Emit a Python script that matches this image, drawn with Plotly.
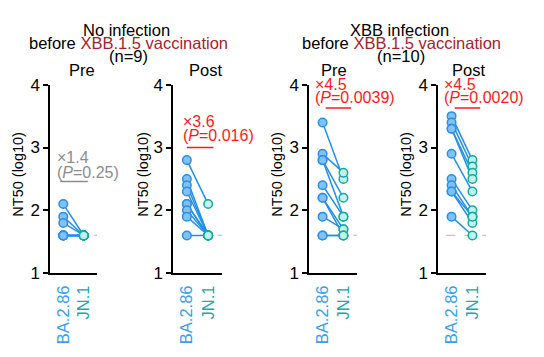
import plotly.graph_objects as go

# ---------------- data ----------------
variants = ["BA.2.86", "JN.1"]
panel_names = ["No infection Pre", "No infection Post", "XBB infection Pre", "XBB infection Post"]

p1_ba = [2.1, 1.9, 1.8, 1.6, 1.6, 1.6, 1.6, 1.6, 1.6]
p1_jn = [1.6, 1.6, 1.6, 1.6, 1.6, 1.6, 1.6, 1.6, 1.6]

p2_ba = [2.8, 2.5, 2.4, 2.3, 2.1, 2.1, 2.0, 1.9, 1.6]
p2_jn = [2.1, 1.6, 1.6, 1.6, 1.6, 1.6, 1.6, 1.6, 1.6]

p3_ba = [3.4, 2.9, 2.8, 2.8, 2.4, 2.2, 2.2, 1.9, 1.6, 1.6]
p3_jn = [2.5, 2.6, 2.2, 1.9, 1.9, 1.7, 1.6, 1.7, 1.6, 1.6]

p4_ba = [3.5, 3.4, 3.3, 3.3, 2.9, 2.5, 2.4, 2.3, 2.3, 1.9]
p4_jn = [2.8, 2.7, 2.6, 2.5, 2.3, 2.0, 1.9, 1.8, 1.9, 1.6]

fold_labels = ["×1.4", "×3.6", "×4.5", "×4.5"]
p_labels = ["0.25", "0.016", "0.0039", "0.0020"]
lod = 1.6
yticks = [1, 2, 3, 4]

panels = [(p1_ba, p1_jn), (p2_ba, p2_jn), (p3_ba, p3_jn), (p4_ba, p4_jn)]

# ---------------- style ----------------
W, H = 544, 357
FONT = "Liberation Sans, Arial, sans-serif"
BA_COL = "#3a9ef0"
JN_COL = "#21a6a6"
LINE_COL = "#2290ea"
BA_FILL = "#80c2f4"
BA_EDGE = "#2a8fe6"
JN_FILL = "#bdf4ee"
JN_EDGE = "#18a79c"
RED = "#ff1a1a"
DARKRED = "#a3232e"
GRAY = "#8c8c8c"

x_domains_px = [(50, 97), (173, 222), (309, 357), (438, 486)]
y_dom = [1 - 279 / H, 1 - 80 / H]
ann_colors = [GRAY, RED, RED, RED]
lod_colors = ["#a9c9ea", "#a9c9ea", "#c4c4c4", "#c4c4c4"]
text_left_px = [56, 182, 314, 443]
fold_y_px = [157, 119, 80, 80]
p_y_px = [172.5, 134, 93, 93]
bar_y = [2.46, 3.0, 3.63, 3.63]
bar_x = [(-0.15, 1.2), (0.0, 1.25), (0.15, 1.37), (0.15, 1.37)]
ytitle_x_px = [18, 143, 277, 406]


def px(x):
    return x / W


def py(y):
    return 1 - y / H


fig = go.Figure()
layout = dict(
    width=W, height=H, margin=dict(l=0, r=0, t=0, b=0),
    paper_bgcolor="white", plot_bgcolor="white", showlegend=False,
    font=dict(family=FONT, size=16, color="black"),
)
shapes = []
annotations = []

for i, (ba, jn) in enumerate(panels):
    k = "" if i == 0 else str(i + 1)
    xa, ya = "x" + k, "y" + k
    lx, ly = [], []
    for a, b in zip(ba, jn):
        lx += [0, 1, None]
        ly += [a, b, None]
    fig.add_trace(go.Scatter(x=lx, y=ly, mode="lines", xaxis=xa, yaxis=ya,
                             line=dict(color=LINE_COL, width=1.5), hoverinfo="skip"))
    fig.add_trace(go.Scatter(x=[0] * len(ba), y=ba, mode="markers", xaxis=xa, yaxis=ya,
                             marker=dict(size=8.5, color=BA_FILL, line=dict(color=BA_EDGE, width=1.5))))
    fig.add_trace(go.Scatter(x=[1] * len(jn), y=jn, mode="markers", xaxis=xa, yaxis=ya,
                             marker=dict(size=8.5, color=JN_FILL, line=dict(color=JN_EDGE, width=1.5))))

    d0, d1 = x_domains_px[i]
    layout["xaxis" + k] = dict(
        domain=[px(d0), px(d1)], range=[-0.65, 1.65], anchor=ya,
        showline=True, linecolor="black", linewidth=1.5, showgrid=False, zeroline=False,
        tickmode="array", tickvals=[0, 1],
        ticktext=[f"<span style='color:{BA_COL}'>{variants[0]}</span>",
                  f"<span style='color:{JN_COL}'>{variants[1]}</span>"],
        tickangle=-90, ticks="", ticklabelstandoff=4,
        tickfont=dict(size=16.5, family=FONT), fixedrange=True,
    )
    layout["yaxis" + k] = dict(
        domain=y_dom, range=[1, 4], anchor=xa,
        showline=True, linecolor="black", linewidth=1.5, showgrid=False, zeroline=False,
        tickmode="array", tickvals=yticks, ticktext=[str(t) for t in yticks],
        ticks="outside", ticklen=5, tickwidth=1.5, tickcolor="black",
        tickfont=dict(size=17, family=FONT), fixedrange=True,
    )
    shapes.append(dict(type="line", xref=xa, yref=ya, x0=-0.25, x1=1.65, y0=lod, y1=lod,
                       line=dict(color=lod_colors[i], width=1.2, dash="dash"), layer="below"))
    shapes.append(dict(type="line", xref=xa, yref=ya, x0=bar_x[i][0], x1=bar_x[i][1],
                       y0=bar_y[i], y1=bar_y[i], line=dict(color=ann_colors[i], width=1.5)))
    annotations.append(dict(x=px(text_left_px[i]), y=py(fold_y_px[i]), xref="paper", yref="paper",
                            text=fold_labels[i], showarrow=False, xanchor="left", yanchor="middle",
                            font=dict(size=16, color=ann_colors[i], family=FONT), borderpad=0))
    annotations.append(dict(x=px(text_left_px[i]), y=py(p_y_px[i]), xref="paper", yref="paper",
                            text=f"(<i>P</i>={p_labels[i]})", showarrow=False, xanchor="left",
                            yanchor="middle", font=dict(size=16, color=ann_colors[i], family=FONT),
                            borderpad=0))
    annotations.append(dict(x=px(ytitle_x_px[i]), y=py(175), xref="paper", yref="paper",
                            text="NT50 (log10)", textangle=-90, showarrow=False,
                            xanchor="center", yanchor="middle",
                            font=dict(size=14.5, family=FONT, color="black")))

headers = [
    ("No infection", 126, 22),
    (f"before <span style='color:{DARKRED}'>XBB.1.5 vaccination</span>", 128, 36),
    ("(n=9)", 128, 50),
    ("Pre", 82, 64),
    ("Post", 205, 64),
    ("XBB infection", 399, 22),
    (f"before <span style='color:{DARKRED}'>XBB.1.5 vaccination</span>", 401, 36),
    ("(n=10)", 401, 50),
    ("Pre", 334, 64),
    ("Post", 468, 64),
]
for t, x, y in headers:
    annotations.append(dict(x=px(x), y=py(y), xref="paper", yref="paper", text=t,
                            showarrow=False, xanchor="center", yanchor="middle",
                            font=dict(size=16.5, family=FONT, color="black"), borderpad=0))

layout["shapes"] = shapes
layout["annotations"] = annotations
fig.update_layout(**layout)
fig.write_html("out.html", config={"displayModeBar": False},
               post_script="document.body.style.margin='0';document.body.style.overflow='hidden';")
